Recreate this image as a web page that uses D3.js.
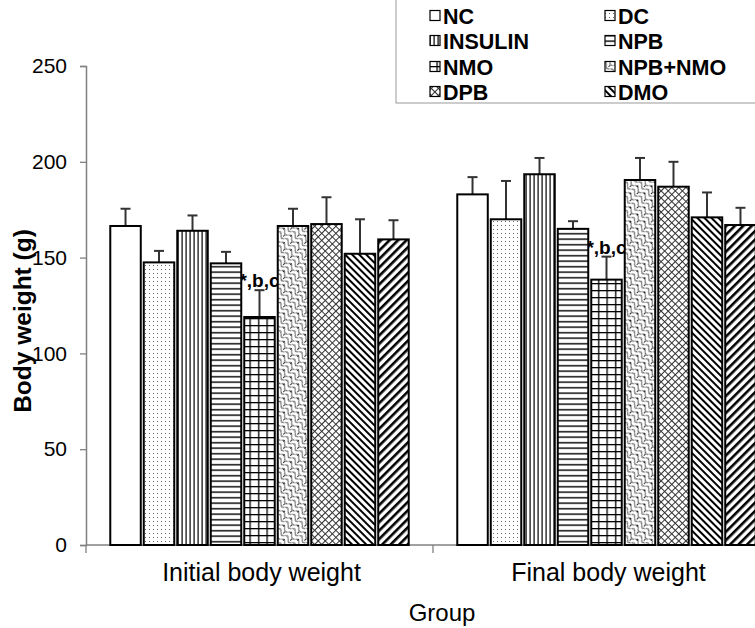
<!DOCTYPE html>
<html>
<head>
<meta charset="utf-8">
<script src="https://cdn.jsdelivr.net/npm/d3@7"></script>
<style>
  body { margin: 0; background: #fff; }
  svg { display: block; font-family: "Liberation Sans", Arial, sans-serif; }
</style>
</head>
<body>
<svg id="chart" width="755" height="628"></svg>
<script>
// ---- data ----
const groups = ["Initial body weight", "Final body weight"];
const series = ["NC", "DC", "INSULIN", "NPB", "NMO", "NPB+NMO", "DPB", "DMO", "DMO+DPB"];
const legendSeries = ["NC", "DC", "INSULIN", "NPB", "NMO", "NPB+NMO", "DPB", "DMO"];
const initialValues = [166.5, 147.5, 164, 147, 119, 166.5, 167.5, 152, 159.5];
const initialErrors = [9, 6, 8, 6, 14, 9, 14, 18, 10];
const finalValues = [183, 170, 193.5, 165, 138.5, 190.5, 187, 171, 167];
const finalErrors = [9, 20, 8.5, 4, 12, 11.5, 13, 13, 9];
const yTicks = [0, 50, 100, 150, 200, 250];
const annotations = [
  { group: "Initial body weight", series: "NMO", text: "*,b,c" },
  { group: "Final body weight", series: "NMO", text: "*,b,c" }
];
const valuesByGroup = { "Initial body weight": initialValues, "Final body weight": finalValues };
const errorsByGroup = { "Initial body weight": initialErrors, "Final body weight": finalErrors };

const svg = d3.select("#chart");
const x0 = d3.scaleBand().domain(groups).range([86, 780]).paddingInner(0).paddingOuter(0);
const x1 = d3.scaleBand().domain(series).range([0, x0.bandwidth()]).paddingInner(0).paddingOuter(0.68);
const y = d3.scaleLinear().domain([0, 250]).range([545, 66]);

// ---- patterns ----
const defs = svg.append("defs");
function pat(id, w, h, build, transform) {
  const p = defs.append("pattern").attr("id", id).attr("patternUnits", "userSpaceOnUse")
    .attr("width", w).attr("height", h);
  if (transform) p.attr("patternTransform", transform);
  p.append("rect").attr("width", w).attr("height", h).attr("fill", "#fff");
  build(p);
}
pat("p-NC", 4, 4, p => {});
pat("p-DC", 4, 4, p => {
  p.append("rect").attr("x", 1).attr("y", 1).attr("width", 1).attr("height", 1).attr("fill", "#666");
});
pat("p-INSULIN", 4, 4, p => {
  p.append("rect").attr("x", 1.5).attr("y", 0).attr("width", 1.2).attr("height", 4).attr("fill", "#000");
});
pat("p-NPB", 6, 5.5, p => {
  p.append("rect").attr("x", 0).attr("y", 2).attr("width", 6).attr("height", 1.4).attr("fill", "#000");
});
pat("p-NMO", 8.5, 7, p => {
  p.append("rect").attr("x", 0).attr("y", 3).attr("width", 8.5).attr("height", 1.3).attr("fill", "#000");
  p.append("rect").attr("x", 3).attr("y", 0).attr("width", 1.3).attr("height", 7).attr("fill", "#000");
});
pat("p-NPB+NMO", 10, 10, p => {
  p.append("path").attr("d", "M0,2.5 Q2.5,-1 5,2.5 Q7.5,6 10,2.5 M0,7.5 Q2.5,4 5,7.5 Q7.5,11 10,7.5")
    .attr("fill", "none").attr("stroke", "#000").attr("stroke-width", 0.9);
  p.append("path").attr("d", "M2.5,0 L2.5,2 M7.5,5 L7.5,7")
    .attr("fill", "none").attr("stroke", "#000").attr("stroke-width", 0.8);
}, "rotate(45)");
pat("p-DPB", 5, 5, p => {
  p.append("rect").attr("x", 0).attr("y", 2).attr("width", 5).attr("height", 1).attr("fill", "#333");
  p.append("rect").attr("x", 2).attr("y", 0).attr("width", 1).attr("height", 5).attr("fill", "#333");
}, "rotate(45)");
pat("p-DMO", 5, 5, p => {
  p.append("rect").attr("x", 0).attr("y", 0).attr("width", 5).attr("height", 2).attr("fill", "#000");
}, "rotate(45)");
pat("p-DMO+DPB", 6, 6, p => {
  p.append("rect").attr("x", 0).attr("y", 0).attr("width", 6).attr("height", 2.6).attr("fill", "#000");
}, "rotate(-45)");

// ---- legend box ----
const legendG = svg.append("g");
legendG.append("rect").attr("x", 396).attr("y", -5).attr("width", 400).attr("height", 108)
  .attr("fill", "#fff").attr("stroke", "#999").attr("stroke-width", 1);
const legX = [430, 605];
const legY = [16, 41, 67, 92];
legendSeries.forEach((s, i) => {
  const cx = legX[i % 2], cy = legY[Math.floor(i / 2)];
  legendG.append("rect").attr("x", cx).attr("y", cy - 5.5).attr("width", 10).attr("height", 10)
    .attr("fill", `url(#p-${s})`).attr("stroke", "#000").attr("stroke-width", 1.2);
  legendG.append("text").attr("x", cx + 13).attr("y", cy).attr("dy", "0.36em")
    .attr("font-size", 21.5).attr("font-weight", "bold").attr("fill", "#000").text(s);
});

// ---- axes ----
const yAxis = d3.axisLeft(y).tickValues(yTicks).tickSize(6).tickPadding(13);
const ya = svg.append("g").attr("transform", "translate(86,0)").call(yAxis);
ya.select(".domain").attr("stroke", "#808080").attr("stroke-width", 1.5);
ya.selectAll(".tick line").attr("stroke", "#808080").attr("stroke-width", 1.3);
ya.selectAll(".tick text").attr("font-size", 21).attr("fill", "#000")
  .attr("font-family", "Liberation Sans, Arial, sans-serif");

// x axis line + divider ticks
const xa = svg.append("g");
xa.append("line").attr("x1", 86).attr("x2", 800).attr("y1", y(0)).attr("y2", y(0))
  .attr("stroke", "#808080").attr("stroke-width", 1.5);
[x0(groups[0]), x0(groups[1])].forEach(xx => {
  xa.append("line").attr("x1", xx).attr("x2", xx).attr("y1", y(0)).attr("y2", y(0) + 8)
    .attr("stroke", "#808080").attr("stroke-width", 1.3);
});
groups.forEach(g => {
  xa.append("text").attr("x", x0(g) + x0.bandwidth() / 2 + 2).attr("y", 581)
    .attr("text-anchor", "middle").attr("font-size", 25).attr("fill", "#000").text(g);
});
svg.append("text").attr("x", 442).attr("y", 621).attr("text-anchor", "middle")
  .attr("font-size", 24).attr("fill", "#000").text("Group");
svg.append("text").attr("transform", "translate(31,321) rotate(-90)")
  .attr("text-anchor", "middle").attr("font-size", 24.5).attr("font-weight", "bold")
  .attr("fill", "#000").text("Body weight (g)");

// ---- annotations (behind bars) ----
annotations.forEach(a => {
  const idx = series.indexOf(a.series);
  const top = valuesByGroup[a.group][idx] + errorsByGroup[a.group][idx];
  svg.append("text").attr("x", x0(a.group) + x1(a.series) + x1.bandwidth() / 2)
    .attr("y", y(top) - 3).attr("text-anchor", "middle")
    .attr("font-size", 19).attr("font-weight", "bold").attr("fill", "#000").text(a.text);
});

// ---- bars ----
const rows = [];
groups.forEach(g => series.forEach((s, i) => rows.push({
  g, s, v: valuesByGroup[g][i], e: errorsByGroup[g][i]
})));
const barG = svg.append("g");
barG.selectAll("line.err").data(rows).join("line").attr("class", "err")
  .attr("x1", d => x0(d.g) + x1(d.s) + x1.bandwidth() / 2)
  .attr("x2", d => x0(d.g) + x1(d.s) + x1.bandwidth() / 2)
  .attr("y1", d => y(d.v)).attr("y2", d => y(d.v + d.e))
  .attr("stroke", "#333").attr("stroke-width", 2);
barG.selectAll("line.cap").data(rows).join("line").attr("class", "cap")
  .attr("x1", d => x0(d.g) + x1(d.s) + x1.bandwidth() / 2 - 5)
  .attr("x2", d => x0(d.g) + x1(d.s) + x1.bandwidth() / 2 + 5)
  .attr("y1", d => y(d.v + d.e)).attr("y2", d => y(d.v + d.e))
  .attr("stroke", "#333").attr("stroke-width", 2);
barG.selectAll("rect.bar").data(rows).join("rect").attr("class", "bar")
  .attr("x", d => x0(d.g) + x1(d.s) + 1.5)
  .attr("width", x1.bandwidth() - 3)
  .attr("y", d => y(d.v)).attr("height", d => y(0) - y(d.v))
  .attr("fill", d => `url(#p-${d.s})`).attr("stroke", "#000").attr("stroke-width", 2);
</script>
</body>
</html>
